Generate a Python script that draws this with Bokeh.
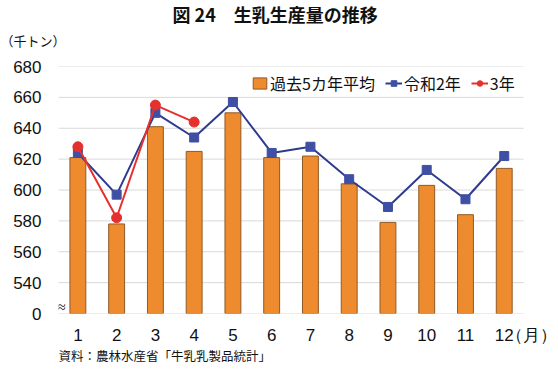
from bokeh.plotting import figure
from bokeh.models import FixedTicker, Label, Legend, LegendItem, Range1d, Title
from bokeh.embed import file_html
from bokeh.resources import INLINE

months = [1, 2, 3, 4, 5, 6, 7, 8, 9, 10, 11, 12]
month_labels = ["1", "2", "3", "4", "5", "6", "7", "8", "9", "10", "11", "12"]
unit_x_label = "（月）"
avg5 = [621, 578, 641, 625, 650, 621, 622, 604, 579, 603, 584, 614]
r2 = [624, 597, 650, 634, 657, 624, 628, 607, 589, 613, 594, 622]
r3_months = [1, 2, 3, 4]
r3 = [628, 582, 655, 644]
y_ticks = [520, 540, 560, 580, 600, 620, 640, 660, 680]
y_tick_labels = ["0", "540", "560", "580", "600", "620", "640", "660", "680"]
axis_break = 520
x_first, x_last = 0.5, 12.5
unit_x_pos = 12.71

JP = "Noto Sans CJK JP"
NUM = "Liberation Sans"

p = figure(width=558, height=370, output_backend="svg", toolbar_location=None,
           x_range=Range1d(0.5, 13.40), y_range=Range1d(520, 680),
           min_border_left=58, min_border_right=0, min_border_top=66, min_border_bottom=57)
p.outline_line_color = None
p.background_fill_color = "white"
p.border_fill_color = "white"

# horizontal grid lines limited to the month area
p.segment(x0=[x_first] * len(y_ticks), y0=y_ticks, x1=[x_last] * len(y_ticks), y1=y_ticks,
          line_color="#D9D9D9", line_width=1)

bars = p.vbar(x=months, top=avg5, bottom=axis_break, width=0.41,
              fill_color="#EE8B2E", line_color="#8F5A26", line_width=1)
l2 = p.line(months, r2, line_color="#2E3B8F", line_width=2)
s2 = p.scatter(months, r2, marker="square", size=9, fill_color="#3F4FA3", line_color="#3F4FA3")
l3 = p.line(r3_months, r3, line_color="#E5312E", line_width=2)
s3 = p.scatter(r3_months, r3, marker="circle", size=10, fill_color="#E5312E", line_color="#E5312E")

# axes
p.yaxis.ticker = FixedTicker(ticks=y_ticks)
p.yaxis.major_label_overrides = {t: l for t, l in zip(y_ticks, y_tick_labels)}
p.yaxis.axis_line_color = None
p.yaxis.major_tick_line_color = None
p.yaxis.major_tick_out = 0
p.yaxis.major_tick_in = 0
p.yaxis.minor_tick_line_color = None
p.yaxis.major_label_standoff = 17
p.yaxis.major_label_text_font = NUM
p.yaxis.major_label_text_font_size = "17px"
p.yaxis.major_label_text_color = "#111111"

p.xaxis.ticker = FixedTicker(ticks=months + [unit_x_pos])
overrides = {m: l for m, l in zip(months, month_labels)}
overrides[unit_x_pos] = unit_x_label
p.xaxis.major_label_overrides = overrides
p.xaxis.axis_line_color = None
p.xaxis.major_tick_line_color = None
p.xaxis.major_tick_out = 0
p.xaxis.major_tick_in = 0
p.xaxis.minor_tick_line_color = None
p.xaxis.major_label_standoff = 12
p.xaxis.major_label_text_font = NUM
p.xaxis.major_label_text_font_size = "17px"
p.xaxis.major_label_text_color = "#111111"

p.xgrid.grid_line_color = None
p.ygrid.grid_line_color = None

legend = Legend(items=[
    LegendItem(label="過去5カ年平均", renderers=[bars]),
    LegendItem(label="令和2年", renderers=[l2, s2]),
    LegendItem(label="3年", renderers=[l3, s3]),
], orientation="horizontal", location=(193, 218))
legend.label_text_font = JP
legend.label_text_font_size = "16px"
legend.label_text_color = "#111111"
legend.glyph_width = 17
legend.glyph_height = 14
legend.label_standoff = 2
legend.spacing = 10
legend.padding = 2
legend.border_line_color = None
legend.background_fill_color = "white"
legend.background_fill_alpha = 1
p.add_layout(legend, "center")

# axis break mark
p.add_layout(Label(text="≈", x=3, y=8, x_units="screen", y_units="screen",
                   text_font="Noto Sans", text_font_size="15px", text_align="center",
                   text_baseline="middle", text_color="#111111", level="overlay"))

# titles
def make_title(text, size, offset, standoff, style, valign, fallback_standoff):
    kw = dict(text=text, align="left", offset=offset, text_font=JP, text_font_size=size,
              text_font_style=style, text_color="#111111", vertical_align=valign)
    try:
        return Title(standoff=standoff, **kw)
    except Exception:
        return Title(standoff=fallback_standoff, **kw)

p.add_layout(make_title("（千トン）", "13px", -58, 30, "normal", "top", 30), "above")
p.add_layout(make_title("図 24　生乳生産量の推移", "18px", 114, -27, "bold", "top", 0), "above")
p.add_layout(make_title("資料：農林水産省「牛乳乳製品統計」", "12.5px", 0, -3, "normal", "top", 0), "below")

open("out.html", "w").write(file_html(p, INLINE))
